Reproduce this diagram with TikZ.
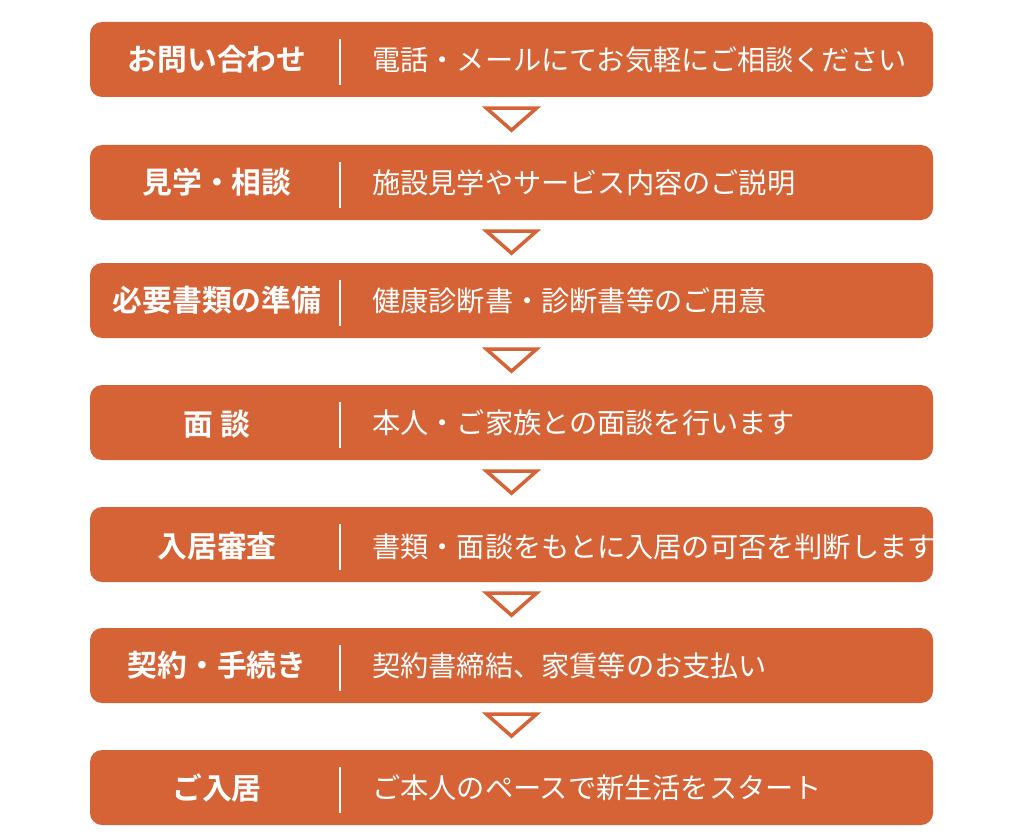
\documentclass[tikz,border=0pt]{standalone}
\usepackage{fontspec}
\setmainfont{Noto Sans CJK JP}[BoldFont={* Bold}]
\usetikzlibrary{calc}
\definecolor{flowfill}{HTML}{D56336}

\tikzset{
  flowbox/.style={fill=flowfill, rounded corners=12pt, minimum width=843pt, minimum height=75pt, inner sep=0pt},
  headtext/.style={text=white, font=\bfseries\fontsize{29.8}{32}\selectfont, inner sep=0pt},
  desctext/.style={text=white, font=\fontsize{28.2}{30}\selectfont, inner sep=0pt, anchor=west},
  sepline/.style={draw=white, line width=2.5pt},
  downmark/.style={draw=flowfill, line width=3.5pt, line join=miter}
}

\begin{document}
\begin{tikzpicture}[x=1pt,y=-1pt]
			%%%%% START %%%%%
			\useasboundingbox (0,0) rectangle (1025,840);
			
			\node[flowbox] (box1) at (511.5, 59.5) {};
			\node[flowbox] (box2) at (511.5, 182.5) {};
			\node[flowbox] (box3) at (511.5, 300.5) {};
			\node[flowbox] (box4) at (511.5, 422.5) {};
			\node[flowbox] (box5) at (511.5, 544.5) {};
			\node[flowbox] (box6) at (511.5, 665.5) {};
			\node[flowbox] (box7) at (511.5, 787.5) {};
			
			\node[headtext] (head1) at (217, 59.5) {お問い合わせ};
			\node[headtext] (head2) at (217, 182.5) {見学・相談};
			\node[headtext] (head3) at (217, 300.5) {必要書類の準備};
			\node[headtext] (head4) at (217, 424.5) {面 談};
			\node[headtext] (head5) at (217, 546.5) {入居審査};
			\node[headtext] (head6) at (217, 665.5) {契約・手続き};
			\node[headtext] (head7) at (217, 787.5) {ご入居};
			
			\node[desctext] (desc1) at (372, 59.5) {電話・メールにてお気軽にご相談ください};
			\node[desctext] (desc2) at (372, 182.5) {施設見学やサービス内容のご説明};
			\node[desctext] (desc3) at (372, 300.5) {健康診断書・診断書等のご用意};
			\node[desctext] (desc4) at (372, 422.5) {本人・ご家族との面談を行います};
			\node[desctext] (desc5) at (372, 546.5) {書類・面談をもとに入居の可否を判断します};
			\node[desctext] (desc6) at (372, 665.5) {契約書締結、家賃等のお支払い};
			\node[desctext] (desc7) at (372, 787.5) {ご本人のペースで新生活をスタート};
			
			\draw[sepline] ($(box1.north west)+(250,17)$) -- ($(box1.north west)+(250,63)$);
			\draw[sepline] ($(box2.north west)+(250,17)$) -- ($(box2.north west)+(250,63)$);
			\draw[sepline] ($(box3.north west)+(250,17)$) -- ($(box3.north west)+(250,63)$);
			\draw[sepline] ($(box4.north west)+(250,17)$) -- ($(box4.north west)+(250,63)$);
			\draw[sepline] ($(box5.north west)+(250,17)$) -- ($(box5.north west)+(250,63)$);
			\draw[sepline] ($(box6.north west)+(250,17)$) -- ($(box6.north west)+(250,63)$);
			\draw[sepline] ($(box7.north west)+(250,17)$) -- ($(box7.north west)+(250,63)$);
			
			\draw[downmark] ($(box1.south)+(-25,11)$) -- ($(box1.south)+(25,11)$) -- ($(box1.south)+(0,33)$) -- cycle;
			\draw[downmark] ($(box2.south)+(-25,11)$) -- ($(box2.south)+(25,11)$) -- ($(box2.south)+(0,33)$) -- cycle;
			\draw[downmark] ($(box3.south)+(-25,11)$) -- ($(box3.south)+(25,11)$) -- ($(box3.south)+(0,33)$) -- cycle;
			\draw[downmark] ($(box4.south)+(-25,11)$) -- ($(box4.south)+(25,11)$) -- ($(box4.south)+(0,33)$) -- cycle;
			\draw[downmark] ($(box5.south)+(-25,11)$) -- ($(box5.south)+(25,11)$) -- ($(box5.south)+(0,33)$) -- cycle;
			\draw[downmark] ($(box6.south)+(-25,11)$) -- ($(box6.south)+(25,11)$) -- ($(box6.south)+(0,33)$) -- cycle;
			
			%%%%% END %%%%%
		\end{tikzpicture}
\end{document}
